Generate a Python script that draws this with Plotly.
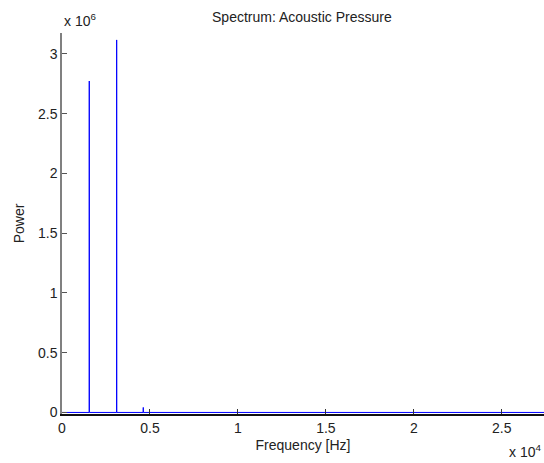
import plotly.graph_objects as go

# Power spectrum of the acoustic pressure signal (frequency in Hz, power in Pa^2)
freq_hz = [0, 1545, 1551, 1557, 3102, 3108, 3114, 4614, 4620, 4626, 27560]
power = [0, 0, 2.773e6, 0, 0, 3.117e6, 0, 0, 0.042e6, 0, 0]

x_ticks = [0, 5000, 10000, 15000, 20000, 25000]
x_tick_text = ["0", "0.5", "1", "1.5", "2", "2.5"]
y_ticks = [0, 0.5e6, 1e6, 1.5e6, 2e6, 2.5e6, 3e6]
y_tick_text = ["0", "0.5", "1", "1.5", "2", "2.5", "3"]

font = "Liberation Sans, Arial, sans-serif"
text_color = "#222"

fig = go.Figure()
fig.add_trace(go.Scatter(
    x=freq_hz, y=power, mode="lines",
    line=dict(color="#0000ff", width=1),
    hoverinfo="skip", showlegend=False,
))

fig.update_layout(
    width=544, height=463,
    margin=dict(l=62, r=0, t=33, b=49),
    paper_bgcolor="white", plot_bgcolor="white",
    font=dict(family=font, size=14, color=text_color),
    title=dict(text="Spectrum: Acoustic Pressure", x=0.555,
               xanchor="center", y=0.963, yanchor="middle",
               font=dict(family=font, size=14, color=text_color)),
    xaxis=dict(
        range=[0, 27400], tickvals=x_ticks, ticktext=x_tick_text,
        ticks="inside", ticklen=5, tickcolor="#333", showgrid=False, zeroline=False,
        showline=True, linecolor="#111", linewidth=1.5, mirror=False,
        tickfont=dict(size=14),
        title=dict(text="Frequency [Hz]", standoff=6, font=dict(size=14)),
    ),
    yaxis=dict(
        range=[-0.013e6, 3.175e6], tickvals=y_ticks, ticktext=y_tick_text,
        ticks="inside", ticklen=5, tickcolor="#555", showgrid=False, zeroline=False,
        showline=True, linecolor="#808080", linewidth=1.5,
        tickfont=dict(size=14),
        title=dict(text="Power", standoff=10, font=dict(size=14)),
    ),
    annotations=[
        dict(text="x 10<sup>6</sup>", xref="paper", yref="paper", x=0, y=1,
             xanchor="left", yanchor="bottom", yshift=2, showarrow=False,
             font=dict(family=font, size=14, color=text_color)),
        dict(text="x 10<sup>4</sup>", xref="paper", yref="paper", x=1, y=0,
             xanchor="right", yanchor="top", yshift=-26, xshift=-1, showarrow=False,
             font=dict(family=font, size=14, color=text_color)),
    ],
)

fig.write_html("out.html")
